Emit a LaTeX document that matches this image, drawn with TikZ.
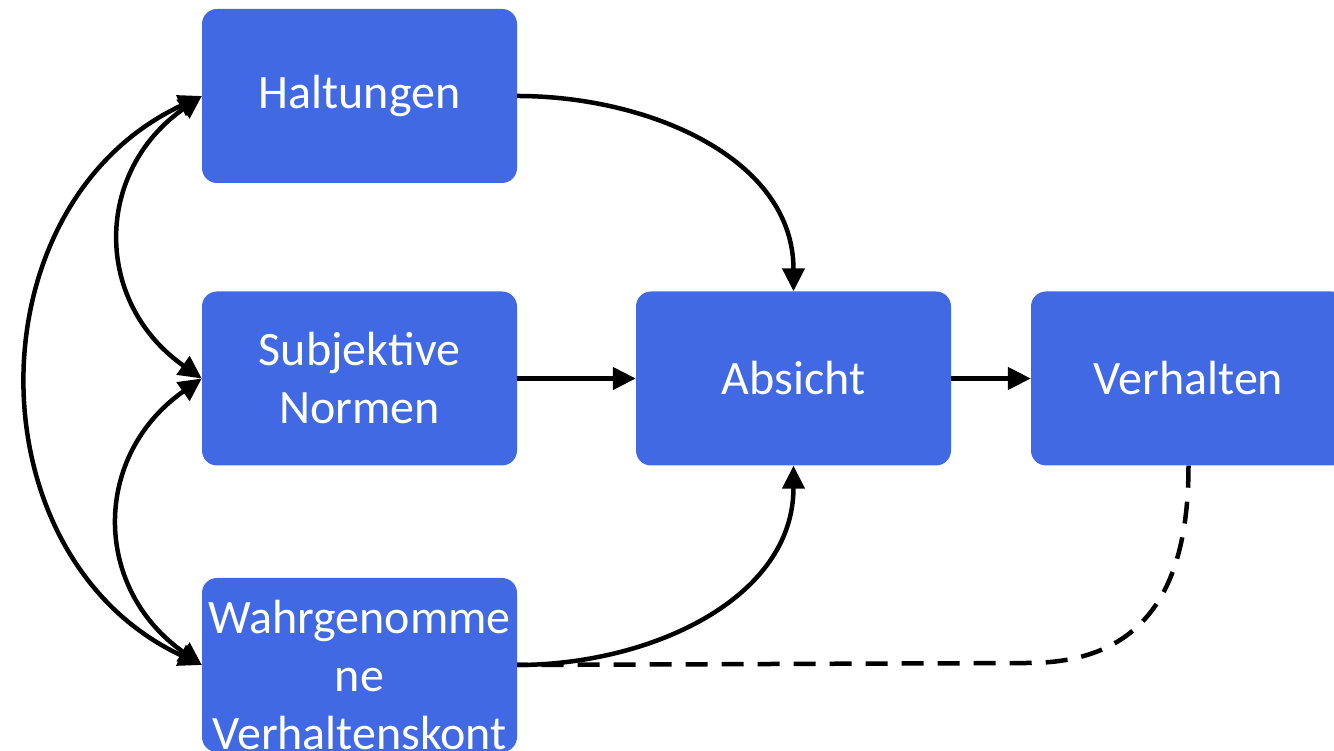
\documentclass[tikz,border=0pt]{standalone}
\usepackage{fontspec}
\setmainfont{Carlito}
\usepackage{tikz}
\usetikzlibrary{arrows.meta}
\usetikzlibrary{positioning}
\definecolor{boxblue}{RGB}{65,105,228}

\begin{document}
\begin{tikzpicture}[x=1pt, y=1pt,
  box/.style={rectangle, rounded corners=15pt, fill=boxblue, draw=none, text=white, minimum width=315pt, minimum height=174pt, inner sep=0pt, align=center, font=\fontsize{48}{58}\selectfont},
  link/.style={line width=4.5pt, draw=black, -{Triangle[length=23pt,width=22pt]}},
  both/.style={line width=4.5pt, draw=black, {Triangle[length=23pt,width=22pt]}-{Triangle[length=23pt,width=22pt]}}]
\useasboundingbox (0, 0) rectangle (1334, 751);
\node [box] (Halt) at (359.5, 655) {Haltungen};
\node [box] (Subj) at (359.5, 372.5) {Subjektive\\Normen};
\node [box] (Wahr) at (359.5, 86) {};
\node [text=white, align=center, font=\fontsize{48}{58}\selectfont] (WahrText) at (359.5, 76) {Wahrgenomme\\ne\\Verhaltenskont};
\node [box] (Absicht) at (793.5, 372.5) {Absicht};
\node [box] (Verh) at (1188.5, 372.5) {Verhalten};
\coordinate (Knick) at (1028, 88);
\draw [link] (Halt.east) to [out=0, in=90] (Absicht.north);
\draw [link] (Subj.east) to (Absicht.west);
\draw [link] (Wahr.east) to [out=0, in=-90] (Absicht.south);
\draw [link] (Absicht.east) to (Verh.west);
\draw [both] (Halt.west) to [out=215, in=145, looseness=1.2] (Subj.west);
\draw [both] (Subj.west) to [out=215, in=145, looseness=1.2] (Wahr.west);
\draw [both] (Halt.west) to [out=205, in=155, looseness=1.15] (Wahr.west);
\draw [line width=4.5pt, draw=black, dash pattern=on 22pt off 14pt] (Verh.south) to [out=-90, in=0, looseness=1.2] (Knick) -- (Wahr.east);
\end{tikzpicture}
\end{document}
